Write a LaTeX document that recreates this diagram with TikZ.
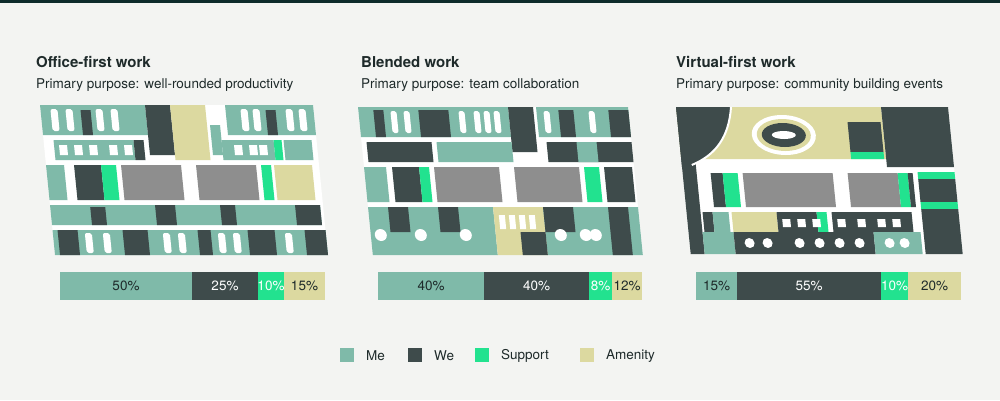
\documentclass[tikz,border=0pt]{standalone}
\usepackage{fontspec}
\setmainfont{TeX Gyre Heros}
\usetikzlibrary{positioning}
\definecolor{bgC}{HTML}{F3F4F2}
\definecolor{topC}{HTML}{0D2B2B}
\definecolor{meC}{HTML}{7FBAA9}
\definecolor{weC}{HTML}{3E4B4B}
\definecolor{supC}{HTML}{22E28F}
\definecolor{amC}{HTML}{DCD9A0}
\definecolor{coreC}{HTML}{8E8E8E}
\definecolor{txtC}{HTML}{1E2A2A}
\tikzset{
  title/.style={anchor=base west,inner sep=0,font=\fontsize{15}{18}\selectfont\bfseries,text=txtC},
  subtitle/.style={anchor=base west,inner sep=0,font=\fontsize{13.5}{16}\selectfont,text=txtC},
  pct/.style={inner sep=0,font=\fontsize{13.5}{16}\selectfont,text=txtC},
  legend/.style={anchor=west,inner sep=0,font=\fontsize{13.5}{16}\selectfont,text=txtC},
  desk/.style={fill=white,rounded corners=2},
}
\begin{document}
\begin{tikzpicture}[x=1pt,y=-1pt]
\useasboundingbox (0,0) rectangle (1000,400);
\fill[bgC] (0,0) rectangle (1000,400);
\fill[topC] (0,0) rectangle (1000,3);

% titles
\node[title] (t1) at (36,67) {Office-first work};
\node[subtitle] (s1) at (36,88) {Primary purpose: well-rounded productivity};
\node[title] (t2) at (361,67) {Blended work};
\node[subtitle] (s2) at (361,88) {Primary purpose: team collaboration};
\node[title] (t3) at (676,67) {Virtual-first work};
\node[subtitle] (s3) at (676,88) {Primary purpose: community building events};

% plan 1
\begin{scope}[shift={(40,105)},xslant=-0.1]
  \fill[white] (0,0) rectangle (273,150);
  \foreach \xa/\ya/\xb/\yb/\c in {0/0/105/30/meC,40/5/50/30/weC,105/0/130/50/weC,130/0/165/55/amC,
      168/20/178/50/meC,185/0/273/30/meC,225/5/235/30/weC,
      10/35/90/55/meC,90/35/100/55/weC,178/35/230/55/meC,230/35/238/55/supC,240/35/268/55/meC,
      0/60/18/95/meC,28/60/55/95/weC,55/60/70/95/supC,75/60/135/95/coreC,150/60/210/95/coreC,
      215/60/225/95/supC,228/60/266/95/amC,
      0/100/270/120/meC,40/102/55/120/weC,105/100/125/120/weC,170/100/185/120/weC,245/100/270/120/weC,
      0/125/273/150/meC,5/125/25/150/weC,70/125/95/150/weC,145/125/158/150/weC,195/125/222/150/weC,252/125/273/150/weC}
    \fill[\c] (\xa,\ya) rectangle (\xb,\yb);
  \foreach \x in {10,25,55,70,200,212,245,258}
    \fill[desk] (\x,4) rectangle +(7,22);
  \foreach \x in {32,50,110,125,165,180,232}
    \fill[desk] (\x,128) rectangle +(7,20);
  \foreach \x in {15,30,45,65,80,190,205,215}
    \fill[white] (\x,40) rectangle +(8,10);
\end{scope}

% plan 2
\begin{scope}[shift={(358,107)},xslant=-0.1]
  \fill[white] (0,0) rectangle (270,148);
  \foreach \xa/\ya/\xb/\yb/\c in {0/0/150/30/meC,15/3/25/30/weC,60/3/90/30/weC,150/0/175/45/weC,
      178/0/270/30/meC,200/3/215/30/weC,250/3/270/30/weC,
      5/35/70/55/weC,75/35/150/55/meC,185/35/270/55/weC,215/35/235/55/meC,
      0/60/22/95/meC,28/60/55/95/weC,55/60/65/95/supC,70/60/135/95/coreC,150/60/215/95/coreC,
      220/60/235/95/supC,240/60/268/95/weC,
      0/100/125/148/meC,20/100/40/125/weC,70/100/90/125/weC,125/100/175/148/amC,
      175/100/270/148/meC,175/100/205/125/weC,240/100/260/148/weC,150/125/175/148/weC}
    \fill[\c] (\xa,\ya) rectangle (\xb,\yb);
  \foreach \x in {32,45,100,115,125,135,185,230}
    \fill[desk] (\x,4) rectangle +(6,22);
  \foreach \x in {10,50,95,190,215,225}
    \fill[white] (\x,128) circle (6);
  \foreach \x in {130,140,150,160}
    \fill[white] (\x,108) rectangle +(6,14);
\end{scope}

% plan 3
\begin{scope}[shift={(676,107)},xslant=-0.1]
  \fill[white] (0,0) rectangle (272,147);
  \foreach \xa/\ya/\xb/\yb/\c in {0/0/205/52/amC,170/15/203/45/weC,170/45/203/52/supC,
      205/0/272/60/weC,0/0/14/147/weC,235/65/272/72/supC,235/72/272/95/weC,235/95/272/102/supC,
      28/66/40/100/weC,40/66/55/100/supC,60/66/150/100/coreC,165/66/215/100/coreC,
      215/66/225/100/supC,225/66/230/100/weC,
      16/105/26/125/weC,26/105/42/125/meC,45/105/90/125/amC,90/105/130/125/weC,130/105/140/125/supC,
      145/105/225/125/weC,235/102/272/147/weC,
      14/125/45/147/meC,45/125/185/147/weC,185/125/232/147/meC}
    \fill[\c] (\xa,\ya) rectangle (\xb,\yb);
  \fill[weC] (0,0) -- (55,0) .. controls (50,30) and (35,48) .. (10,58) -- (0,60) -- cycle;
  \draw[white,line width=2] (55,0) .. controls (50,30) and (35,48) .. (10,58);
  \fill[white] (105,28) ellipse (32 and 20);
  \fill[amC] (105,28) ellipse (27 and 16);
  \fill[weC] (105,28) ellipse (22 and 12);
  \fill[white] (105,28) ellipse (12 and 4);
  \foreach \x in {60,78,110,130,150,170,200,215}
    \fill[white] (\x,136) circle (5);
  \foreach \x in {95,110,125,150,170,190,205}
    \fill[white] (\x,112) rectangle +(8,8);
\end{scope}

% bars
\foreach \xa/\xb/\c/\t/\tc in {60/192/meC/50\%/txtC,192/258/weC/25\%/white,258/284/supC/10\%/white,284/325/amC/15\%/txtC,
    378/484/meC/40\%/txtC,484/589/weC/40\%/white,589/612/supC/8\%/white,612/642/amC/12\%/txtC,
    696/737/meC/15\%/txtC,737/881/weC/55\%/white,881/908/supC/10\%/white,908/961/amC/20\%/txtC}
  {\fill[\c] (\xa,272) rectangle (\xb,300);
   \node[pct,text=\tc] at ({(\xa+\xb)/2},286) {\t};}

% legend
\foreach \x/\c/\t in {340/meC/Me,408/weC/We,475/supC/Support,580/amC/Amenity}
  {\fill[\c] (\x,348) rectangle +(14,14);
   \node[legend] at (\x+26,356) {\t};}
\end{tikzpicture}
\end{document}
